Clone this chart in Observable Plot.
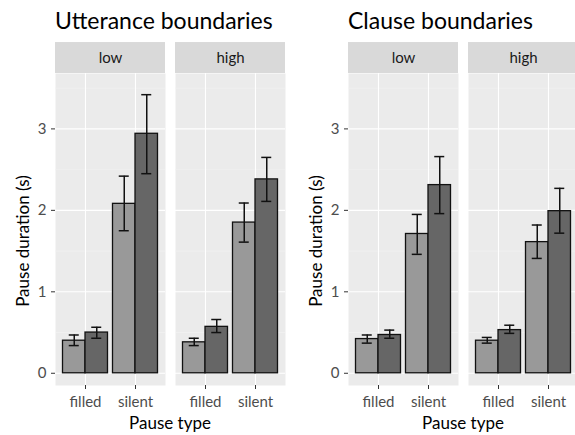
<!DOCTYPE html>
<html>
<head>
<meta charset="utf-8">
<script src="https://cdn.jsdelivr.net/npm/d3@7"></script>
<script src="https://cdn.jsdelivr.net/npm/@observablehq/plot@0.6"></script>
<style>
  html, body { margin: 0; padding: 0; background: #fff; width: 575px; height: 435px; overflow: hidden; }
  body { position: relative; font-family: Lato, "Open Sans", sans-serif; }
  .chart { position: absolute; top: 0; width: 290px; height: 435px; }
  .title { position: absolute; top: 9px; font-size: 23px; line-height: 1; color: #000; white-space: nowrap; }
  .plotwrap { position: absolute; top: 40px; left: 0; width: 290px; height: 395px; }
  .plotwrap svg { max-width: none !important; overflow: visible; }
  .plotwrap g[aria-label$="tick label"] text { font-size: 15px !important; }
  .plotwrap g[aria-label$="tick label"] { font-size: 15px !important; }
  .xlab { position: absolute; top: 414px; font-size: 17px; line-height: 1; color: #000; text-align: center; width: 230px; }
  .ylab { position: absolute; left: 22px; top: 241px; font-size: 17px; line-height: 1; color: #000; white-space: nowrap;
          transform: translate(-50%, -50%) rotate(-90deg); }
  #err { position: absolute; top: 100px; left: 10px; font-size: 12px; color: red; white-space: pre-wrap; width: 550px; }
</style>
</head>
<body>
<div id="root"></div>
<div id="err"></div>
<script>
// ---- data ----
const chartTitles = ["Utterance boundaries", "Clause boundaries"];
const yTitle = "Pause duration (s)";
const xTitle = "Pause type";
const levels = ["low", "high"];
const pauseTypes = ["filled", "silent"];
const conditions = ["first", "second"];
const yTicks = [0, 1, 2, 3];
const yMinor = [0.5, 1.5, 2.5, 3.5];

// order: level (low, high) x pause type (filled, silent) x condition (first, second)
const utteranceMean  = [0.40, 0.50, 2.08, 2.94,  0.38, 0.57, 1.85, 2.38];
const utteranceLower = [0.34, 0.43, 1.75, 2.45,  0.34, 0.50, 1.61, 2.11];
const utteranceUpper = [0.47, 0.565, 2.42, 3.42, 0.43, 0.66, 2.09, 2.65];

const clauseMean  = [0.42, 0.47, 1.71, 2.31,  0.40, 0.53, 1.61, 1.99];
const clauseLower = [0.37, 0.43, 1.46, 1.96,  0.37, 0.49, 1.41, 1.72];
const clauseUpper = [0.47, 0.53, 1.95, 2.66,  0.44, 0.59, 1.82, 2.27];

const barColors = ["#999999", "#666666"];

// ---- chart ----
const dodge = 0.9;
const capHalf = 0.1;
const yDomain = [-0.15, 3.68];
const stripTop = 4.06;

function makeChart(means, lows, highs) {
  const rows = [];
  levels.forEach((lv, i) => pauseTypes.forEach((p, j) => conditions.forEach((c, k) => {
    const idx = i * 4 + j * 2 + k;
    const w = dodge / conditions.length;
    const x1 = (j + 1) - dodge / 2 + k * w;
    rows.push({level: lv, pause: p, cond: c, mean: means[idx], lo: lows[idx], hi: highs[idx],
               x1, x2: x1 + w, xc: x1 + w / 2});
  })));
  const strip = levels.map(lv => ({level: lv}));
  const svg = Plot.plot({
    width: 290, height: 395,
    marginLeft: 55, marginRight: 5, marginTop: 33, marginBottom: 50,
    style: {fontFamily: "Lato, 'Open Sans', sans-serif", fontSize: "14px", background: "transparent", overflow: "visible"},
    fx: {domain: levels, paddingInner: 10 / 120, paddingOuter: 0, axis: null, label: null},
    x: {domain: [0.4, 2.6], axis: null},
    y: {domain: yDomain, axis: null},
    color: {domain: conditions, range: barColors},
    marks: [
      Plot.frame({fill: "#EBEBEB", stroke: null}),
      Plot.gridY(yMinor, {stroke: "#F4F4F4", strokeOpacity: 1, strokeWidth: 0.6}),
      Plot.gridY(yTicks, {stroke: "#FFFFFF", strokeOpacity: 1, strokeWidth: 1.1}),
      Plot.gridX([1, 2], {stroke: "#FFFFFF", strokeOpacity: 1, strokeWidth: 1.1}),
      Plot.rect(rows, {fx: "level", x1: "x1", x2: "x2", y1: 0, y2: "mean", fill: "cond", stroke: "#111", strokeWidth: 1.3}),
      Plot.ruleX(rows, {fx: "level", x: "xc", y1: "lo", y2: "hi", stroke: "#111", strokeWidth: 1.5}),
      Plot.ruleY(rows, {fx: "level", x1: d => d.xc - capHalf, x2: d => d.xc + capHalf, y: "lo", stroke: "#111", strokeWidth: 1.5}),
      Plot.ruleY(rows, {fx: "level", x1: d => d.xc - capHalf, x2: d => d.xc + capHalf, y: "hi", stroke: "#111", strokeWidth: 1.5}),
      Plot.rect(strip, {fx: "level", x1: 0.4, x2: 2.6, y1: yDomain[1], y2: stripTop, fill: "#D9D9D9"}),
      Plot.text(strip, {fx: "level", x: 1.5, text: "level", y: (yDomain[1] + stripTop) / 2, fontSize: 15, fill: "#1A1A1A"}),
      Plot.axisY(yTicks, {tickSize: 4, tickPadding: 5, fontSize: 15, color: "#4D4D4D", stroke: "#333",
        tickFormat: d3.format("d"), label: null}),
      Plot.axisX([1, 2], {tickSize: 4, tickPadding: 7, fontSize: 15, color: "#4D4D4D", stroke: "#333",
        tickFormat: d => pauseTypes[d - 1], label: null})
    ]
  });
  svg.querySelectorAll('g[aria-label="x-axis tick label"], g[aria-label="y-axis tick label"]').forEach(g => {
    g.setAttribute("font-size", 15);
    g.style.fontSize = "15px";
  });
  return svg;
}

try {
  const root = document.getElementById("root");
  const datasets = [[utteranceMean, utteranceLower, utteranceUpper], [clauseMean, clauseLower, clauseUpper]];
  const offsets = [0, 293];
  chartTitles.forEach((t, i) => {
    const div = document.createElement("div");
    div.className = "chart";
    div.style.left = offsets[i] + "px";
    const title = document.createElement("div");
    title.className = "title";
    title.style.left = "55px";
    title.textContent = t;
    div.appendChild(title);
    const wrap = document.createElement("div");
    wrap.className = "plotwrap";
    wrap.appendChild(makeChart(...datasets[i]));
    div.appendChild(wrap);
    const yl = document.createElement("div");
    yl.className = "ylab";
    yl.textContent = yTitle;
    div.appendChild(yl);
    const xl = document.createElement("div");
    xl.className = "xlab";
    xl.style.left = "55px";
    xl.textContent = xTitle;
    div.appendChild(xl);
    root.appendChild(div);
  });
} catch (e) {
  document.getElementById("err").textContent = String(e && e.stack || e);
}
</script>
</body>
</html>
